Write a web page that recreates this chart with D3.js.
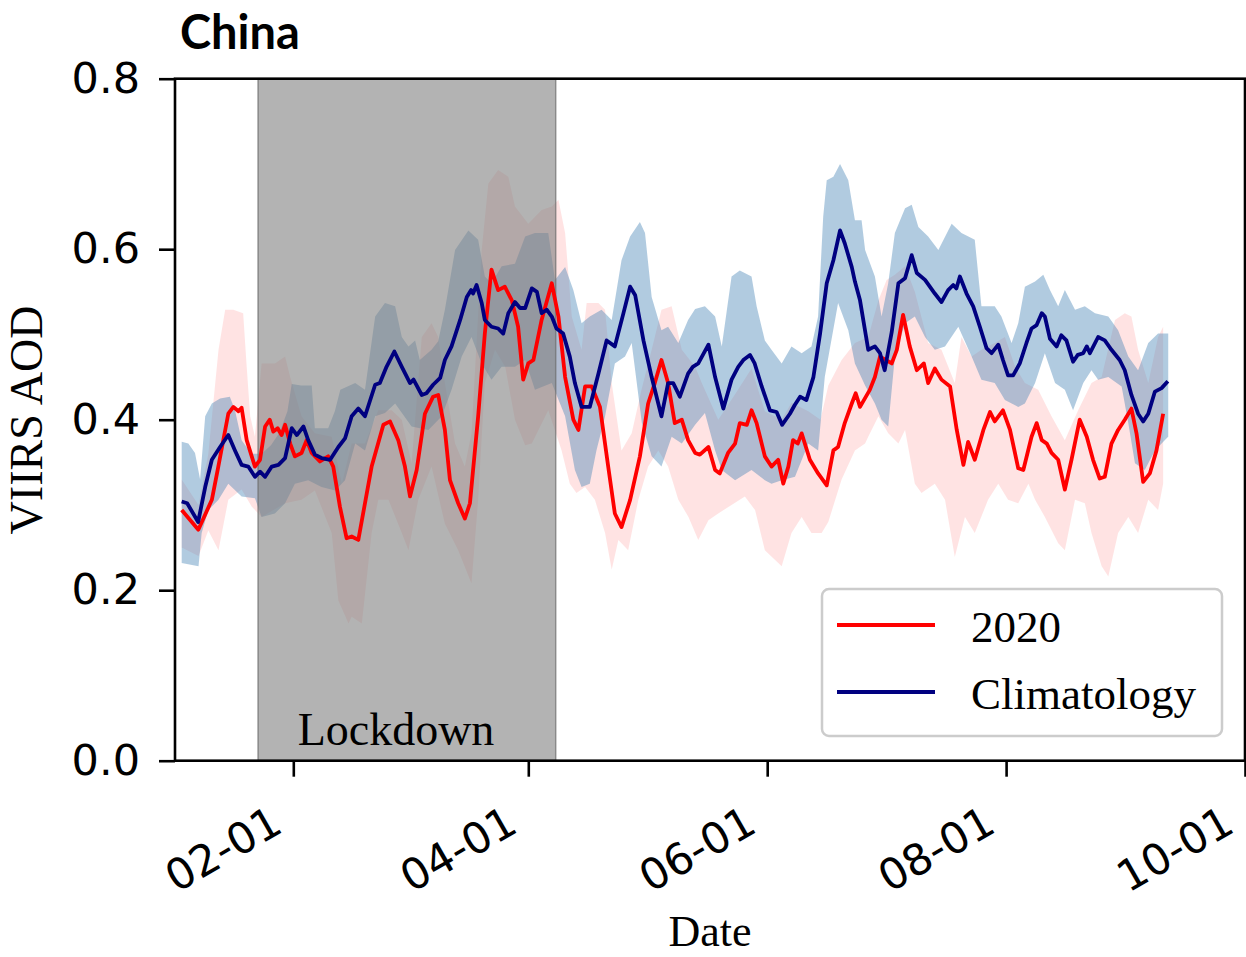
<!DOCTYPE html>
<html><head><meta charset="utf-8">
<script src="https://cdn.jsdelivr.net/npm/d3@7"></script>
<style>body{margin:0;background:#fff}</style>
</head><body>
<svg id="c" width="1246" height="957"></svg>
<script>
// [day of year 2020 (Jan 1 = 1), VIIRS AOD]
const aod2020 = [[3.5,0.294],[7.75,0.271],[11.2,0.306],[12.85,0.345],[15.4,0.407],[16.7,0.415],[18,0.41],[18.8,0.414],[20.1,0.376],[22.2,0.345],[23.5,0.353],[24.8,0.392],[26,0.40],[26.9,0.386],[28,0.39],[29,0.382],[29.9,0.394],[31.2,0.372],[32.4,0.357],[34.1,0.361],[35.4,0.376],[36.7,0.361],[38.8,0.351],[40.9,0.357],[42.2,0.345],[43.9,0.298],[45.6,0.261],[46.9,0.263],[48.6,0.259],[52,0.345],[55,0.394],[56.7,0.398],[58.8,0.376],[60.5,0.345],[61.8,0.31],[63.5,0.341],[65.6,0.407],[67.7,0.427],[69,0.429],[70.7,0.388],[72,0.329],[74.1,0.302],[75.8,0.284],[77.1,0.302],[79.2,0.404],[80.9,0.501],[82.6,0.576],[84.3,0.552],[86,0.556],[87.8,0.54],[89.4,0.509],[90.7,0.447],[92,0.466],[93.3,0.47],[95.4,0.517],[98,0.56],[99.7,0.521],[101.4,0.45],[103.5,0.40],[104.8,0.388],[106.5,0.439],[108.2,0.439],[110.3,0.415],[112.4,0.345],[114.1,0.29],[115.8,0.274],[118,0.306],[120.5,0.357],[122.6,0.419],[124.3,0.443],[126,0.47],[127.7,0.443],[129.4,0.396],[131.2,0.40],[132.8,0.376],[134.6,0.361],[135.8,0.359],[138,0.368],[139.7,0.341],[140.9,0.337],[143,0.361],[144.8,0.372],[146,0.396],[147.8,0.394],[149,0.411],[150.3,0.396],[152.4,0.357],[154.1,0.345],[155.8,0.353],[157.1,0.325],[158.4,0.345],[159.6,0.376],[160.8,0.372],[161.8,0.384],[163.9,0.353],[166,0.337],[168.2,0.323],[169.9,0.364],[171.1,0.368],[172.8,0.396],[174.6,0.419],[175.6,0.431],[176.7,0.415],[179.2,0.435],[180.5,0.45],[181.8,0.474],[184.8,0.466],[186.1,0.482],[187.7,0.523],[189.4,0.486],[191.2,0.458],[193,0.466],[194.1,0.443],[195.8,0.46],[197.5,0.447],[199.7,0.439],[201.4,0.388],[203.1,0.347],[204.3,0.374],[206,0.353],[208.2,0.388],[209.9,0.409],[211.1,0.398],[213.2,0.411],[215,0.388],[217.1,0.343],[218.4,0.341],[220.5,0.38],[221.8,0.396],[223.1,0.376],[224.4,0.372],[225.6,0.361],[227.3,0.353],[229,0.318],[230.7,0.353],[232.8,0.40],[234.6,0.38],[236.2,0.353],[237.9,0.331],[239.2,0.333],[240.9,0.372],[242.6,0.388],[244.3,0.40],[246,0.413],[247.3,0.384],[249,0.327],[250.7,0.337],[252.4,0.364],[254.1,0.407]];

const climatology = [[3.5,0.304],[4.9,0.302],[7.7,0.28],[9.5,0.321],[11.2,0.353],[13.3,0.368],[15.4,0.382],[17.1,0.364],[18.8,0.347],[20.5,0.345],[22.2,0.333],[23.5,0.339],[24.8,0.333],[26.5,0.345],[28.2,0.347],[29.9,0.355],[31.6,0.39],[32.9,0.382],[34.6,0.392],[35.8,0.376],[37.5,0.359],[39.2,0.355],[41.4,0.353],[43.5,0.368],[45.2,0.378],[46.9,0.404],[48.6,0.413],[50.3,0.404],[52.9,0.441],[54.1,0.443],[55.8,0.462],[57.8,0.48],[59.7,0.462],[61.8,0.443],[62.7,0.447],[64.8,0.429],[66,0.431],[67.7,0.441],[69.5,0.449],[70.7,0.47],[72.4,0.486],[74.6,0.517],[76.3,0.544],[77.4,0.552],[77.9,0.548],[78.8,0.558],[80.1,0.537],[80.9,0.517],[82.6,0.509],[84.3,0.507],[85.6,0.501],[86.9,0.525],[88.6,0.538],[89.9,0.531],[91.2,0.531],[92.9,0.554],[94.2,0.55],[95.4,0.525],[96.7,0.529],[98,0.521],[99.2,0.507],[100.9,0.501],[102.6,0.474],[103.9,0.443],[105.6,0.415],[107.7,0.415],[109.9,0.454],[112,0.493],[114.1,0.486],[116.3,0.525],[118,0.556],[119.3,0.546],[121.4,0.493],[123.5,0.45],[126,0.404],[127.7,0.443],[129,0.443],[130.7,0.427],[132.8,0.454],[134,0.462],[135.4,0.466],[138,0.488],[139.7,0.45],[141.8,0.413],[143.9,0.447],[145.6,0.462],[146.9,0.47],[148.6,0.476],[149.8,0.466],[151.6,0.439],[153.7,0.411],[155.4,0.409],[156.8,0.394],[158.8,0.407],[160,0.417],[161.4,0.427],[163,0.423],[164.8,0.45],[166.5,0.501],[168.2,0.56],[169.9,0.587],[171.6,0.622],[172.8,0.607],[174.6,0.579],[175.4,0.562],[176.7,0.54],[178.8,0.482],[180.5,0.486],[181.8,0.478],[183,0.458],[184.8,0.503],[186.5,0.56],[188.2,0.566],[189.9,0.593],[191.2,0.572],[193.3,0.564],[195.8,0.548],[197.5,0.538],[199.2,0.552],[200.5,0.558],[201.3,0.554],[202.2,0.568],[203.9,0.548],[205.6,0.533],[207.3,0.509],[209,0.484],[210.3,0.478],[212,0.488],[213.2,0.47],[214.5,0.452],[215.8,0.452],[217.5,0.466],[219.2,0.49],[220.5,0.507],[221.8,0.511],[223.1,0.525],[223.9,0.521],[225.2,0.495],[226.9,0.486],[228.1,0.499],[229.4,0.493],[231.1,0.468],[232.3,0.476],[233.7,0.478],[234.6,0.486],[235.4,0.478],[237.5,0.497],[239.2,0.493],[240.9,0.482],[243,0.47],[244.3,0.458],[246,0.429],[247.7,0.407],[249,0.398],[250.3,0.407],[252,0.433],[253.7,0.437],[255.3,0.445]];

const band2020Upper = [[3.5,0.33],[7.8,0.30],[10.3,0.36],[12.9,0.482],[14.6,0.529],[16.7,0.529],[19.2,0.525],[20.1,0.462],[21,0.404],[22.2,0.38],[23.9,0.466],[27.3,0.466],[29.9,0.474],[31.2,0.45],[34.1,0.404],[37.5,0.384],[41.8,0.38],[44.4,0.325],[46.9,0.372],[50.3,0.372],[53.7,0.411],[57.1,0.411],[59.7,0.40],[62.2,0.349],[64.8,0.497],[67.3,0.513],[69,0.497],[70.7,0.443],[73.3,0.372],[75.8,0.345],[77.5,0.384],[80.1,0.599],[81.8,0.677],[84.3,0.693],[86.9,0.685],[88.6,0.65],[92,0.63],[95.4,0.646],[98,0.65],[99.7,0.658],[101.4,0.619],[103.1,0.521],[105.6,0.482],[106.9,0.537],[109.9,0.537],[111.6,0.529],[113.3,0.443],[115.8,0.364],[118.4,0.384],[120.9,0.435],[123.5,0.482],[126,0.529],[128.6,0.533],[131.2,0.482],[134.6,0.462],[136.3,0.443],[140.5,0.40],[144.8,0.43],[149,0.46],[152.4,0.41],[156.7,0.40],[159.2,0.42],[163.5,0.41],[166.6,0.40],[168.6,0.44],[172,0.47],[175.4,0.49],[178.8,0.497],[181.4,0.54],[183.5,0.564],[185.6,0.57],[188.2,0.58],[190.7,0.55],[194.1,0.49],[197.5,0.482],[200.9,0.443],[202.6,0.497],[205.2,0.474],[207.7,0.482],[211.1,0.49],[213.7,0.497],[216.3,0.462],[218.8,0.443],[222.2,0.435],[225.6,0.404],[229,0.376],[232.4,0.411],[235.8,0.443],[238.4,0.45],[241.8,0.517],[244.3,0.525],[246,0.521],[247.7,0.482],[250.3,0.443],[252.8,0.497],[254.1,0.509]];

const band2020Lower = [[3.5,0.25],[7.8,0.24],[10.3,0.27],[12.9,0.247],[15.4,0.306],[18.8,0.318],[21.4,0.298],[23.9,0.286],[29.9,0.302],[34.1,0.306],[37.5,0.317],[41.8,0.267],[43.5,0.188],[46.1,0.161],[46.9,0.169],[49.5,0.161],[52,0.267],[53.7,0.306],[56.3,0.306],[59.7,0.267],[61.4,0.247],[63.9,0.306],[67.3,0.345],[70.7,0.278],[74.1,0.247],[77.5,0.208],[79.2,0.306],[80.9,0.443],[83.5,0.482],[86.1,0.462],[88.6,0.40],[91.2,0.37],[92.9,0.372],[97.1,0.411],[100.5,0.364],[102.6,0.325],[104.3,0.314],[106.5,0.321],[109,0.306],[111.6,0.267],[113.3,0.224],[115,0.259],[117.5,0.247],[120.1,0.306],[122.6,0.345],[125.2,0.364],[127.7,0.345],[130.3,0.306],[132.9,0.286],[135.4,0.259],[138,0.282],[140.5,0.29],[143.9,0.30],[147.3,0.31],[149.9,0.294],[152.4,0.247],[156.7,0.228],[159.2,0.267],[161.8,0.286],[164.3,0.267],[166.9,0.267],[168.6,0.28],[172,0.33],[175.4,0.364],[178,0.372],[178.8,0.38],[181.4,0.404],[183.9,0.384],[186.5,0.372],[188.2,0.388],[190.7,0.325],[192.4,0.314],[195.8,0.325],[198.4,0.306],[200.9,0.239],[203.5,0.286],[206,0.267],[209.4,0.306],[212,0.325],[214.5,0.306],[217.1,0.302],[219.7,0.325],[221.4,0.306],[223.9,0.286],[227.3,0.255],[229,0.247],[231.6,0.306],[234.1,0.302],[235.8,0.267],[238.4,0.228],[240.1,0.216],[242.6,0.267],[245.2,0.286],[247.7,0.267],[250.3,0.306],[252.8,0.294],[254.1,0.325]];

const bandClimUpper = [[3.5,0.374],[5.2,0.372],[6.9,0.361],[8.2,0.33],[9.5,0.404],[11.2,0.419],[13.3,0.425],[15.8,0.427],[17.1,0.411],[18.8,0.376],[21.3,0.36],[23.9,0.36],[26.3,0.37],[28.5,0.385],[30.5,0.41],[31.6,0.442],[34,0.44],[36.7,0.44],[37.5,0.39],[40.9,0.39],[42.6,0.41],[44,0.435],[47.8,0.443],[50.3,0.435],[52.9,0.521],[55.4,0.537],[58,0.533],[59.7,0.497],[61.4,0.486],[63.1,0.493],[64.3,0.47],[67.3,0.482],[69,0.492],[70.7,0.529],[73.3,0.599],[76.7,0.622],[79.2,0.611],[80.9,0.568],[82.6,0.56],[85.2,0.58],[88.6,0.583],[91.2,0.615],[93.7,0.619],[97.1,0.619],[98.8,0.564],[101.4,0.579],[103.5,0.552],[105.6,0.513],[107.7,0.521],[110.7,0.529],[113.3,0.517],[115.8,0.587],[118,0.615],[120.5,0.632],[121.8,0.619],[123.5,0.544],[126,0.505],[127.7,0.509],[130.3,0.49],[132.8,0.517],[134.6,0.53],[137.1,0.533],[139.7,0.521],[141.4,0.486],[143.9,0.568],[146,0.575],[149,0.568],[150.3,0.533],[152.4,0.493],[154.1,0.482],[156.7,0.466],[159.2,0.486],[161.8,0.478],[164.3,0.486],[166,0.521],[167.3,0.638],[168.2,0.681],[169.9,0.685],[171.6,0.70],[173.7,0.681],[175.4,0.634],[177.1,0.634],[178,0.599],[180.5,0.568],[182.2,0.521],[183.9,0.56],[185.6,0.619],[188.2,0.648],[189.9,0.652],[191.6,0.626],[194.1,0.615],[196.7,0.599],[200.1,0.63],[202.6,0.619],[206,0.611],[207.7,0.533],[211.1,0.533],[212.8,0.521],[215.4,0.49],[217.1,0.513],[218.8,0.556],[221.4,0.562],[223.5,0.57],[225.2,0.552],[227.3,0.533],[229,0.552],[231.6,0.529],[234.1,0.533],[236.7,0.525],[240.1,0.521],[242.6,0.505],[245.2,0.474],[247.7,0.458],[250.3,0.49],[252.8,0.501],[255.4,0.501]];

const bandClimLower = [[3.5,0.232],[7.8,0.228],[8.6,0.267],[10.3,0.294],[12.9,0.306],[15.4,0.325],[18.8,0.31],[22.2,0.308],[23.9,0.286],[27.3,0.29],[29.9,0.302],[32.4,0.325],[35.8,0.329],[39.2,0.321],[42.7,0.317],[45.2,0.329],[47.8,0.372],[50.3,0.364],[52.9,0.404],[55.4,0.408],[58,0.419],[62.2,0.392],[66.5,0.388],[69.9,0.404],[72.4,0.435],[75,0.474],[77.5,0.497],[80.1,0.466],[82.6,0.447],[85.2,0.462],[88.6,0.462],[91.2,0.47],[93.7,0.435],[98,0.443],[101.4,0.404],[103.9,0.341],[105.6,0.321],[107.7,0.325],[109.4,0.364],[111.6,0.404],[114.1,0.466],[116.7,0.474],[118.4,0.49],[121,0.396],[123.5,0.357],[126,0.345],[128.6,0.38],[131.2,0.372],[134.6,0.394],[137.1,0.408],[139.7,0.364],[141.4,0.341],[144.8,0.329],[149,0.341],[152.4,0.329],[154.1,0.325],[156.7,0.329],[160.1,0.333],[163.5,0.372],[166,0.364],[167.7,0.45],[171.1,0.537],[173.7,0.505],[175.4,0.466],[178,0.44],[180.5,0.419],[182.2,0.40],[183.9,0.392],[185.6,0.474],[188.2,0.513],[190.7,0.521],[193.3,0.497],[195.8,0.482],[198.4,0.486],[201.8,0.509],[205.2,0.474],[207.7,0.447],[211.1,0.443],[213.7,0.423],[217.1,0.415],[218.8,0.419],[221.4,0.443],[223.9,0.478],[226.5,0.443],[229,0.435],[231.1,0.411],[233.7,0.443],[235.8,0.458],[237.5,0.447],[240.1,0.45],[243.5,0.439],[245.2,0.396],[246.9,0.349],[249.4,0.341],[252,0.364],[254.5,0.376],[255.4,0.38]];

const yTicks = [0, 0.2, 0.4, 0.6, 0.8];
const xTickDates = ["2020-02-01", "2020-04-01", "2020-06-01", "2020-08-01", "2020-10-01"];
const lockdownPeriod = ["2020-01-23", "2020-04-08"];
const legendLabels = ["2020", "Climatology"];
const seriesColors = ["#ff0000", "#000080"];

const svg = d3.select("#c");
const P = {l: 175, r: 1245, t: 78.7, b: 760.7};
const dayToDate = d => new Date(Date.UTC(2020, 0, 1) + (d - 1) * 864e5);
const parse = s => new Date(s + "T00:00:00Z");

const x = d3.scaleUtc()
  .domain([new Date(Date.UTC(2020, 0, 1, 19)), new Date(Date.UTC(2020, 9, 1))])
  .range([P.l, P.r]);
const y = d3.scaleLinear().domain([0, 0.8]).range([P.b, P.t]);

const ptLine = d3.line().x(d => x(dayToDate(d[0]))).y(d => y(d[1]));
function band(upper, lower, color, op) {
  svg.append("path").attr("d", ptLine(upper.concat(lower.slice().reverse())) + "Z")
    .attr("fill", color).attr("fill-opacity", op).attr("stroke", "none");
}
band(band2020Upper, band2020Lower, "#ff0000", 0.11);
band(bandClimUpper, bandClimLower, "#4682b4", 0.42);

// Lockdown span (semi-transparent grey over the bands, under the lines)
const lx0 = x(parse(lockdownPeriod[0])), lx1 = x(parse(lockdownPeriod[1]));
svg.append("rect").attr("x", lx0).attr("y", P.t).attr("width", lx1 - lx0).attr("height", P.b - P.t)
  .attr("fill", "#808080").attr("fill-opacity", 0.6)
  .attr("stroke", "#6e6e6e").attr("stroke-opacity", 0.7).attr("stroke-width", 1.5);

svg.append("path").attr("d", ptLine(aod2020)).attr("fill", "none").attr("stroke", seriesColors[0])
  .attr("stroke-width", 3.8).attr("stroke-linejoin", "round");
svg.append("path").attr("d", ptLine(climatology)).attr("fill", "none").attr("stroke", seriesColors[1])
  .attr("stroke-width", 3.8).attr("stroke-linejoin", "round");

// Lockdown label
svg.append("text").attr("x", 396).attr("y", 745).attr("text-anchor", "middle")
  .attr("font-family", "'Liberation Serif', 'Times New Roman', serif").attr("font-size", 46)
  .text("Lockdown");

// Axes
const yAxis = svg.append("g").attr("transform", `translate(${P.l},0)`)
  .call(d3.axisLeft(y).tickValues(yTicks).tickSize(16).tickSizeOuter(0).tickPadding(19).tickFormat(d3.format(".1f")));
const xAxis = svg.append("g").attr("transform", `translate(0,${P.b})`)
  .call(d3.axisBottom(x).tickValues(xTickDates.map(parse)).tickSize(16).tickSizeOuter(0).tickFormat(d3.utcFormat("%m-%d")));
[yAxis, xAxis].forEach(g => {
  g.select(".domain").remove();
  g.selectAll(".tick line").attr("stroke", "#000").attr("stroke-width", 2.6);
  g.selectAll(".tick text").attr("fill", "#000").attr("font-family", "'DejaVu Sans', sans-serif").attr("font-size", 43);
});
xAxis.selectAll(".tick text").attr("x", 0).attr("y", 0).attr("dy", 0)
  .attr("text-anchor", "end").attr("transform", "translate(-9,70) rotate(-30)");

// Frame
svg.append("rect").attr("x", P.l).attr("y", P.t).attr("width", P.r - P.l).attr("height", P.b - P.t)
  .attr("fill", "none").attr("stroke", "#000").attr("stroke-width", 2.6);

// Legend
const lg = svg.append("g");
lg.append("rect").attr("x", 822).attr("y", 589).attr("width", 400).attr("height", 147).attr("rx", 7)
  .attr("fill", "#fff").attr("fill-opacity", 0.8).attr("stroke", "#cccccc").attr("stroke-width", 2.5);
legendLabels.forEach((lab, i) => {
  const yy = 625 + i * 67;
  lg.append("line").attr("x1", 837).attr("x2", 935).attr("y1", yy).attr("y2", yy)
    .attr("stroke", seriesColors[i]).attr("stroke-width", 3.8);
  lg.append("text").attr("x", 971).attr("y", yy + 17)
    .attr("font-family", "'Liberation Serif', 'Times New Roman', serif").attr("font-size", 45).text(lab);
});

// Axis labels and title
svg.append("text").attr("transform", "translate(42,420) rotate(-90)").attr("text-anchor", "middle")
  .attr("font-family", "'Liberation Serif', 'Times New Roman', serif").attr("font-size", 46).text("VIIRS AOD");
svg.append("text").attr("x", 710).attr("y", 946).attr("text-anchor", "middle")
  .attr("font-family", "'Liberation Serif', 'Times New Roman', serif").attr("font-size", 44).text("Date");
svg.append("text").attr("x", 180).attr("y", 49)
  .attr("font-family", "Lato, 'Open Sans', sans-serif").attr("font-weight", "bold").attr("font-size", 47).text("China");
</script>
</body></html>
